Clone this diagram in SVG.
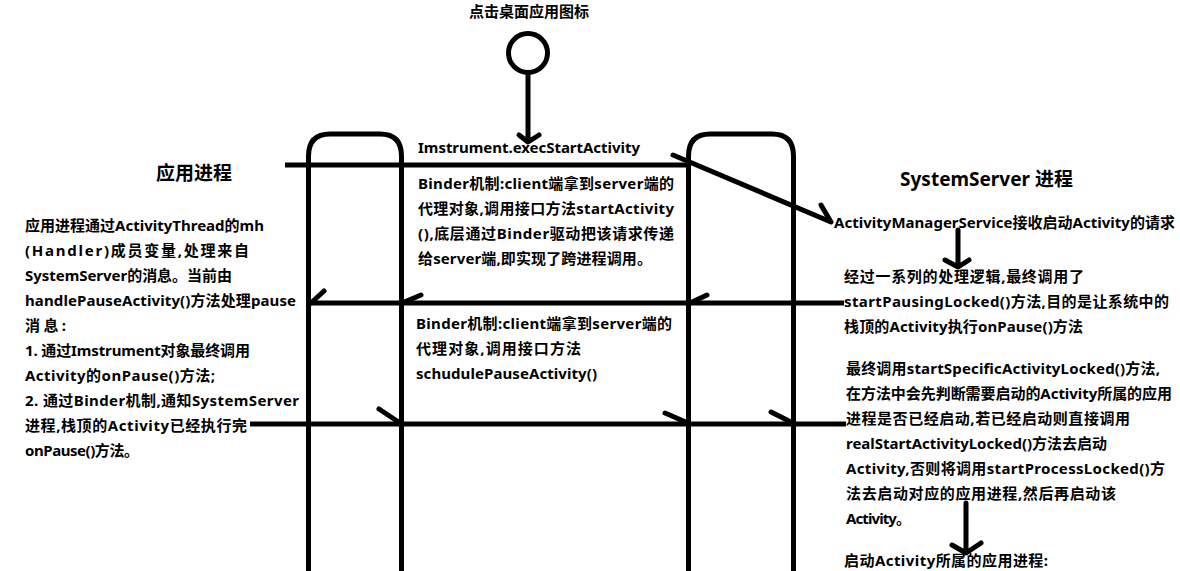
<svg xmlns="http://www.w3.org/2000/svg" width="1180" height="571" viewBox="0 0 1180 571">
<style>
text{font-family:"Noto Sans","Noto Sans CJK SC",sans-serif;font-weight:700;font-size:15px;fill:#000}
.h{font-size:19px}
.l{fill:none;stroke:#000;stroke-width:5;stroke-linecap:round;stroke-linejoin:round}
.b{fill:none;stroke:#000;stroke-width:5;stroke-linecap:butt}
</style>
<rect width="1180" height="571" fill="#fff"/>
<g id="start-node"><circle cx="528" cy="53" r="19.5" fill="#fff" stroke="#000" stroke-width="5"/><text x="469" y="17" textLength="120">点击桌面应用图标</text></g>
<g id="app-lifeline"><path class="b" d="M308.5 571V156Q308.5 134 330 134H380Q401.5 134 401.5 156V571"/></g>
<g id="server-lifeline"><path class="b" d="M688.5 571V156Q688.5 134 710 134H772Q793.5 134 793.5 156V571"/></g>
<g id="connectors">
<path class="l" d="M528 73V141M519 135L528 142L539 135"/>
<path class="b" d="M285 165H689"/>
<path class="l" d="M673 155L831 222L821 205"/>
<path class="l" d="M958 230V267M945 260L958 267L969 260"/>
<path class="b" d="M844 303H311"/>
<path class="l" d="M324 291L311 303M421 295L402 303M707 295L690 303"/>
<path class="b" d="M250 424H846"/>
<path class="l" d="M379 409L400 423M665 413L688 423M771 412L793 423"/>
<path class="l" d="M966 503V553M952 545L966 553L981 543"/>
</g>
<g id="app-title"><text class="h" x="156" y="180" textLength="76">应用进程</text></g>
<g id="server-title"><text class="h" x="900" y="186" textLength="173">SystemServer 进程</text></g>
<g id="call-label"><text x="418" y="153" textLength="222">Imstrument.execStartActivity</text></g>
<g id="binder-start">
<text x="418" y="189" textLength="256">Binder机制:client端拿到server端的</text>
<text x="418" y="214" textLength="256">代理对象,调用接口方法startActivity</text>
<text x="418" y="239" textLength="256">(),底层通过Binder驱动把该请求传递</text>
<text x="418" y="264" textLength="234">给server端,即实现了跨进程调用。</text>
</g>
<g id="binder-pause">
<text x="416" y="329" textLength="256">Binder机制:client端拿到server端的</text>
<text x="416" y="354" textLength="165">代理对象,调用接口方法</text>
<text x="416" y="379" textLength="181">schudulePauseActivity()</text>
</g>
<g id="app-note">
<text x="25" y="231" textLength="239">应用进程通过ActivityThread的mh</text>
<text x="25" y="256" textLength="224">(Handler)成员变量,处理来自</text>
<text x="25" y="281" textLength="207">SystemServer的消息。当前由</text>
<text x="25" y="306" textLength="271">handlePauseActivity()方法处理pause</text>
<text x="25" y="331" textLength="41">消息:</text>
<text x="25" y="356" textLength="225">1. 通过Imstrument对象最终调用</text>
<text x="25" y="381" textLength="190">Activity的onPause()方法;</text>
<text x="25" y="406" textLength="274">2. 通过Binder机制,通知SystemServer</text>
<text x="25" y="431" textLength="222">进程,栈顶的Activity已经执行完</text>
<text x="25" y="456" textLength="114">onPause()方法。</text>
</g>
<g id="ams-note"><text x="834" y="228" textLength="341">ActivityManagerService接收启动Activity的请求</text></g>
<g id="pause-note">
<text x="844" y="282" textLength="240">经过一系列的处理逻辑,最终调用了</text>
<text x="844" y="307" textLength="325">startPausingLocked()方法,目的是让系统中的</text>
<text x="844" y="332" textLength="239">栈顶的Activity执行onPause()方法</text>
</g>
<g id="specific-note">
<text x="846" y="374" textLength="314">最终调用startSpecificActivityLocked()方法,</text>
<text x="846" y="399" textLength="326">在方法中会先判断需要启动的Activity所属的应用</text>
<text x="846" y="424" textLength="284">进程是否已经启动,若已经启动则直接调用</text>
<text x="846" y="449" textLength="261">realStartActivityLocked()方法去启动</text>
<text x="846" y="474" textLength="319">Activity,否则将调用startProcessLocked()方</text>
<text x="846" y="499" textLength="270">法去启动对应的应用进程,然后再启动该</text>
<text x="846" y="524" textLength="65">Activity。</text>
</g>
<g id="process-note"><text x="844" y="566" textLength="204">启动Activity所属的应用进程:</text></g>
</svg>
